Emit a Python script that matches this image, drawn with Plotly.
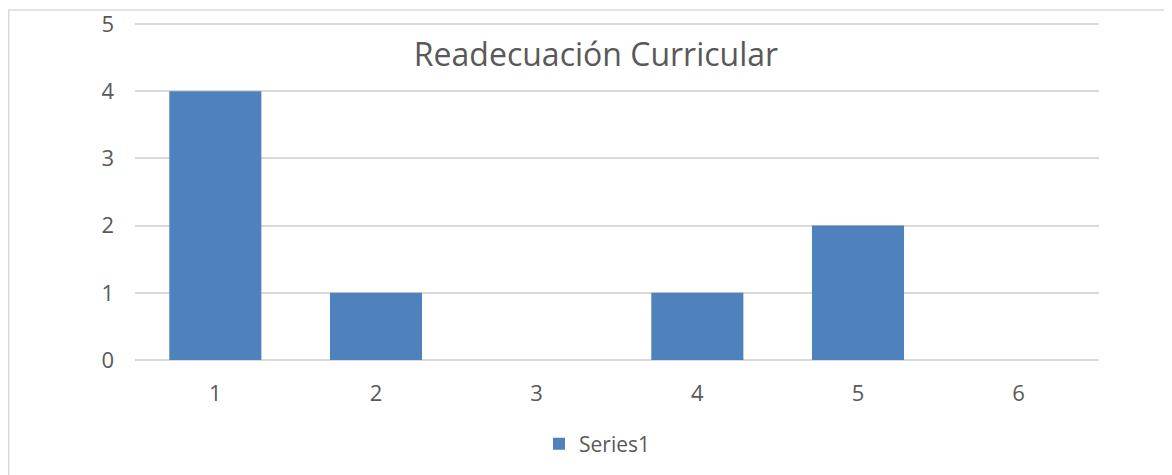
import plotly.graph_objects as go

categories = ["1", "2", "3", "4", "5", "6"]
values = [4, 1, 0, 1, 2, 0]
series_name = "Series1"
title_text = "Readecuación Curricular"
y_ticks = [0, 1, 2, 3, 4, 5]
y_max = 5

# page is rendered with an 8px body offset
OFF = 8
W, H = 1172 - OFF, 475 - OFF
unit_px = (360 - 24) / y_max          # pixels per y unit in reference
pad_top = 2                           # keep top gridline just inside plot area
PL, PR, PT, PB = 135, 1099, 24 - pad_top, 360  # plot area in page pixels
L, R, T, B = PL - OFF, 1172 - PR, PT - OFF, 475 - PB
pw, ph = W - L - R, H - T - B

def px_x(x):
    return (x - OFF - L) / pw

def px_y(y):
    return (H - B - (y - OFF)) / ph

fig = go.Figure()
fig.add_trace(go.Bar(x=categories, y=values, name=series_name,
                     marker=dict(color="#4f81bd", line=dict(width=0))))

fig.update_layout(
    width=W, height=H,
    margin=dict(l=L, r=R, t=T, b=B, autoexpand=False),
    paper_bgcolor="white", plot_bgcolor="white",
    bargap=0.427,
    font=dict(family="Open Sans", color="#595959"),
    title=dict(text=title_text, x=(596 - OFF) / W, y=1 - (55 - OFF) / H,
               xanchor="center", yanchor="middle",
               font=dict(size=32, color="#595959", family="Open Sans")),
    showlegend=True,
    legend=dict(orientation="h", x=px_x(597), y=px_y(444), xanchor="center", yanchor="middle",
                font=dict(size=21, color="#595959"), bgcolor="rgba(0,0,0,0)"),
    xaxis=dict(type="category", range=[-0.5, 5.5], showgrid=False, showline=False,
               automargin=False,
               ticks="", tickfont=dict(size=22, color="#595959"), ticklabelstandoff=18),
    yaxis=dict(range=[0, y_max + pad_top / unit_px], tickvals=y_ticks, showgrid=True,
               gridcolor="#d9d9d9", gridwidth=2, automargin=False,
               zeroline=True, zerolinecolor="#d9d9d9", zerolinewidth=2, showline=False,
               ticks="", tickfont=dict(size=22, color="#595959"), ticklabelstandoff=20,
               ticklabeloverflow="allow"),
    shapes=[dict(type="rect", xref="paper", yref="paper",
                 x0=px_x(8.7), x1=px_x(1180), y0=px_y(10), y1=px_y(490),
                 line=dict(color="#d9d9d9", width=1.5), fillcolor="rgba(0,0,0,0)", layer="below")],
)

fig.write_html("out.html")
